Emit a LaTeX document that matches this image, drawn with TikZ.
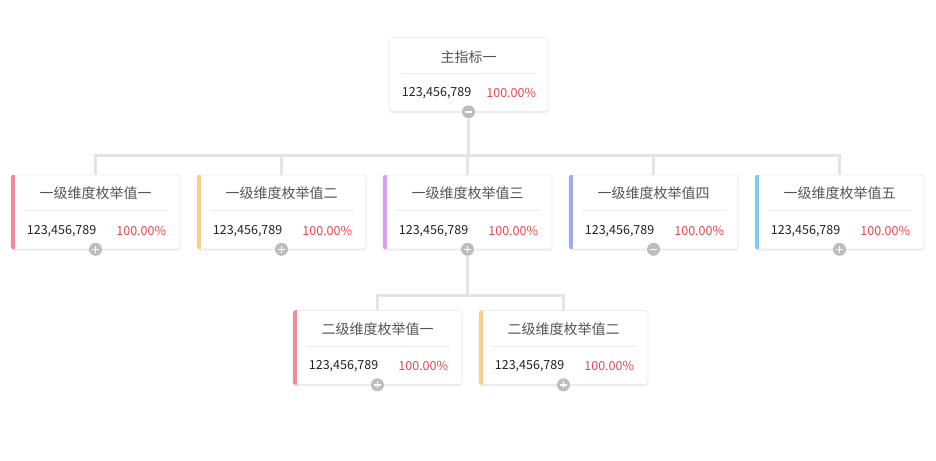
\documentclass[tikz,border=0pt]{standalone}
\usepackage{fontspec}
\setmainfont{Noto Sans CJK SC}
\usetikzlibrary{calc, shadows, backgrounds}

\definecolor{linkgray}{HTML}{E4E4E4}
\definecolor{cardline}{HTML}{EBEBEB}
\definecolor{btngray}{HTML}{BDBDBD}
\definecolor{titlegray}{HTML}{555555}
\definecolor{numblack}{HTML}{222222}
\definecolor{pctred}{HTML}{E8464F}
\definecolor{barpink}{HTML}{F08A9C}
\definecolor{baryellow}{HTML}{F7D08C}
\definecolor{barlilac}{HTML}{DAA0F0}
\definecolor{barblue}{HTML}{A0AAF0}
\definecolor{barsky}{HTML}{82C8FA}

\tikzset{
	card/.style={draw=cardline, line width=0.6pt, fill=white, rounded corners=3pt,
		minimum width=169pt, minimum height=74pt, inner sep=0pt,
		drop shadow={shadow xshift=0pt, shadow yshift=-1.5pt, opacity=0.08, fill=black}},
	cardtitle/.style={text=titlegray, font=\fontsize{14}{16}\selectfont, inner sep=0pt},
	number/.style={text=numblack, font=\fontsize{12.5}{14}\selectfont, inner sep=0pt},
	percent/.style={text=pctred, font=\fontsize{12.5}{14}\selectfont, inner sep=0pt},
	divider/.style={draw=cardline, line width=0.8pt},
	link/.style={draw=linkgray, line width=2.5pt},
	btn/.style={circle, fill=btngray, minimum size=13pt, inner sep=0pt},
	minusbtn/.style={btn, path picture={
		\draw[white, line width=1.4pt] ($(path picture bounding box.center)-(3.4,0)$) -- ($(path picture bounding box.center)+(3.4,0)$);}},
	plusbtn/.style={btn, path picture={
		\draw[white, line width=1.4pt] ($(path picture bounding box.center)-(3.4,0)$) -- ($(path picture bounding box.center)+(3.4,0)$)
			($(path picture bounding box.center)-(0,3.4)$) -- ($(path picture bounding box.center)+(0,3.4)$);}},
}

% card with coloured bar on the left
\newcommand{\dimcard}[4]{%
	\node[card] (#1) at (#2) {};
	\begin{scope}
		\clip[rounded corners=3pt] (#1.north west) rectangle (#1.south east);
		\fill[#3] (#1.north west) rectangle ($(#1.south west)+(4.5,0)$);
	\end{scope}
	\node[cardtitle] (#1-title) at ($(#1.north)+(0,18.5)$) {#4};
	\draw[divider] ($(#1.north west)+(13,36)$) -- ($(#1.north east)+(-12,36)$);
	\node[number, anchor=west] (#1-num) at ($(#1.north west)+(16,56)$) {123,456,789};
	\node[percent, anchor=east] (#1-pct) at ($(#1.north east)+(-14,56)$) {100.00\%};
}

\begin{document}
\begin{tikzpicture}[x=1pt, y=-1pt]
	\useasboundingbox (0,0) rectangle (936,460);
	
	% main indicator
	\node[card, minimum width=159pt] (root) at (468.5,74.5) {};
	\node[cardtitle] (root-title) at ($(root.north)+(0,19.5)$) {主指标一};
	\draw[divider] ($(root.north west)+(12,36)$) -- ($(root.north east)+(-12,36)$);
	\node[number, anchor=west] (root-num) at ($(root.north west)+(13,55.5)$) {123,456,789};
	\node[percent, anchor=east] (root-pct) at ($(root.north east)+(-12,55.5)$) {100.00\%};
	
	% first level
	\dimcard{a1}{95.5,212}{barpink}{一级维度枚举值一}
	\dimcard{a2}{281.5,212}{baryellow}{一级维度枚举值二}
	\dimcard{a3}{467.5,212}{barlilac}{一级维度枚举值三}
	\dimcard{a4}{653.5,212}{barblue}{一级维度枚举值四}
	\dimcard{a5}{839.5,212}{barsky}{一级维度枚举值五}
	
	% second level
	\dimcard{b1}{377.5,347.5}{barpink}{二级维度枚举值一}
	\dimcard{b2}{563.5,347.5}{baryellow}{二级维度枚举值二}
	
	% toggles
	\node[minusbtn] (root-btn) at (root.south) {};
	\node[plusbtn] (a1-btn) at (a1.south) {};
	\node[plusbtn] (a2-btn) at (a2.south) {};
	\node[plusbtn] (a3-btn) at (a3.south) {};
	\node[minusbtn] (a4-btn) at (a4.south) {};
	\node[plusbtn] (a5-btn) at (a5.south) {};
	\node[plusbtn] (b1-btn) at (b1.south) {};
	\node[plusbtn] (b2-btn) at (b2.south) {};
	
	\coordinate (bus1) at ($(root.south)+(0,43.5)$);
	\coordinate (bus2) at ($(a3.south)+(0,46)$);
	
	\begin{pgfonlayer}{background}
		\fill[white] (0,0) rectangle (936,460);
		\draw[link] (root-btn) -- (bus1);
		\foreach \c in {a1,a2,a3,a4,a5}
			\draw[link] (bus1) -| (\c.north);
		\draw[link] (a3-btn) -- (bus2);
		\foreach \c in {b1,b2}
			\draw[link] (bus2) -| (\c.north);
	\end{pgfonlayer}
\end{tikzpicture}
\end{document}
